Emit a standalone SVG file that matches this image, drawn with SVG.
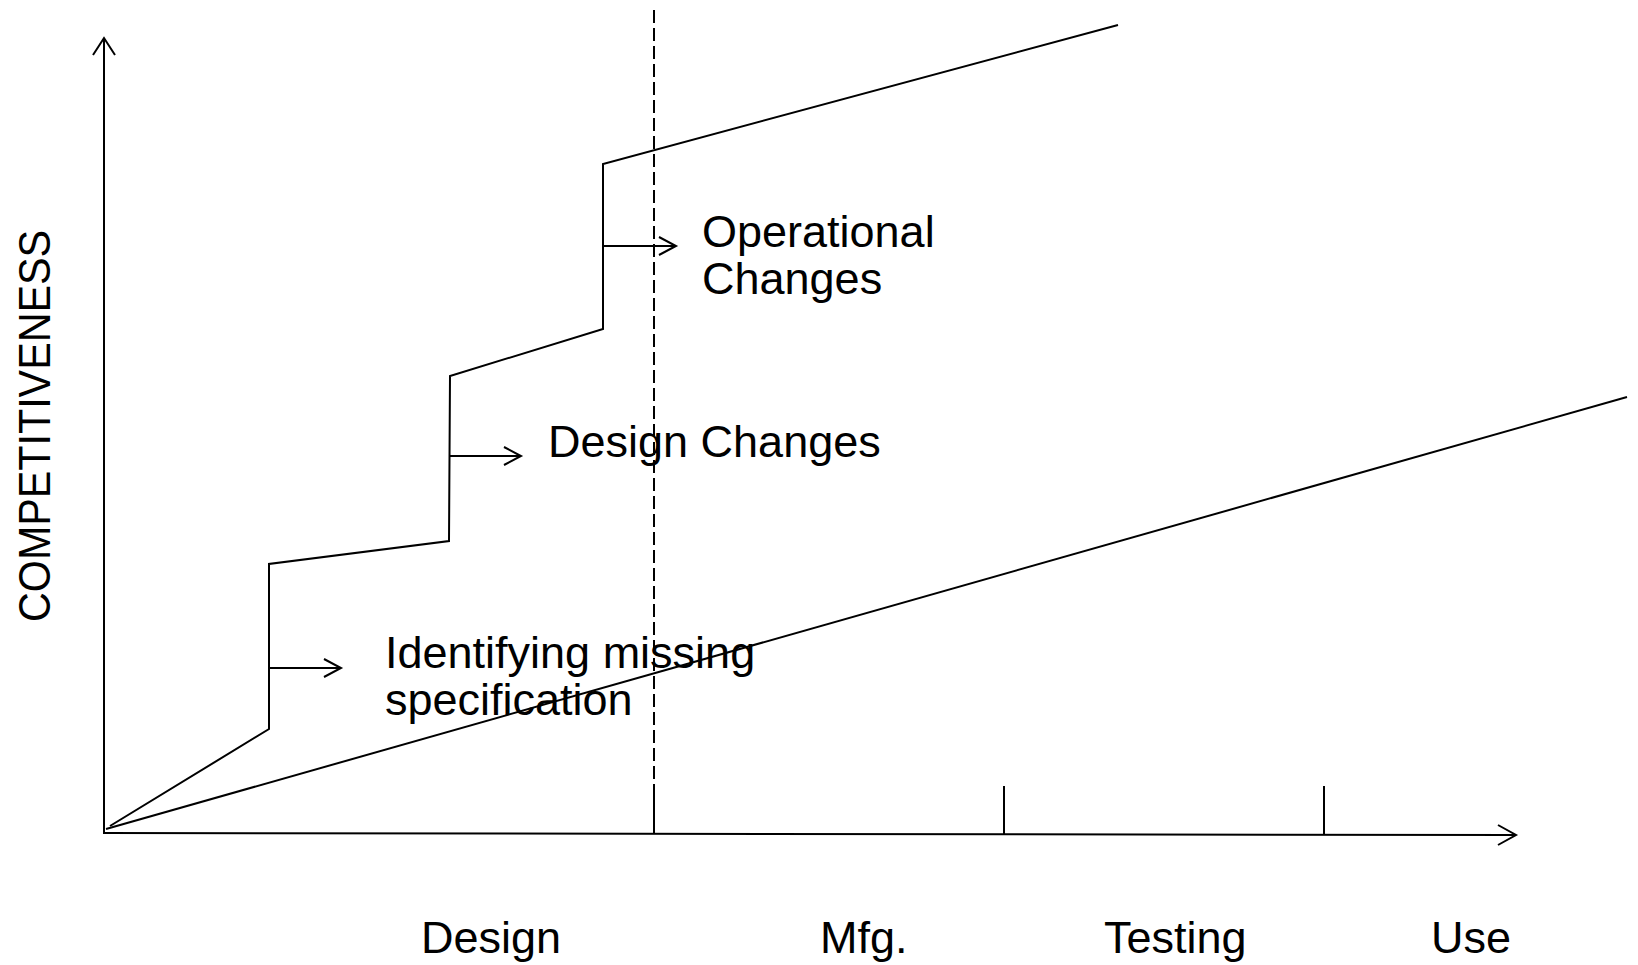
<svg xmlns="http://www.w3.org/2000/svg" width="1638" height="965" viewBox="0 0 1638 965">
<defs>
<style>
.ln{fill:none;stroke:#000;stroke-width:2;stroke-linejoin:miter}
.ah{fill:none;stroke:#000;stroke-width:2}
.dash{fill:none;stroke:#000;stroke-width:2;stroke-dasharray:13 5}
.t{font-family:"Liberation Sans",Arial,sans-serif;font-size:45px;fill:#000}
</style>
</defs>
<rect width="1638" height="965" fill="#fff"/>
<g id="axes">
<line class="ln" x1="104" y1="38" x2="104" y2="834"/>
<polyline class="ah" points="93,55 104,38 115,55"/>
<line class="ln" x1="104" y1="833" x2="1516" y2="835"/>
<polyline class="ah" points="1498,825 1516,835 1498,845"/>
<line class="ln" x1="654" y1="786" x2="654" y2="834"/>
<line class="ln" x1="1004" y1="786" x2="1004" y2="834"/>
<line class="ln" x1="1324" y1="786" x2="1324" y2="835"/>
<line class="dash" x1="654" y1="10" x2="654" y2="786"/>
</g>
<g id="connectors">
<polyline class="ln" points="110,826 269,729 269,564 449,541 450,376 603,329 603,164 1118,25"/>
<line class="ln" x1="106" y1="829" x2="1627" y2="397"/>
<line class="ln" x1="269" y1="668" x2="341" y2="668"/>
<polyline class="ah" points="324,659 341,668 324,677"/>
<line class="ln" x1="450" y1="456" x2="521" y2="456"/>
<polyline class="ah" points="504,447 521,456 504,465"/>
<line class="ln" x1="603" y1="246" x2="676" y2="246"/>
<polyline class="ah" points="659,237 676,246 659,255"/>
</g>
<g id="label-y">
<text class="t" transform="translate(50,622) rotate(-90)" textLength="392" lengthAdjust="spacingAndGlyphs">COMPETITIVENESS</text>
</g>
<g id="node-operational">
<text class="t" x="702" y="247">Operational</text>
<text class="t" x="702" y="294">Changes</text>
</g>
<g id="node-design-changes">
<text class="t" x="548" y="457">Design Changes</text>
</g>
<g id="node-identifying">
<text class="t" x="385" y="668">Identifying missing</text>
<text class="t" x="385" y="715">specification</text>
</g>
<g id="phase-design"><text class="t" x="421" y="953">Design</text></g>
<g id="phase-mfg"><text class="t" x="820" y="953">Mfg.</text></g>
<g id="phase-testing"><text class="t" x="1104" y="953">Testing</text></g>
<g id="phase-use"><text class="t" x="1431" y="953">Use</text></g>
</svg>
